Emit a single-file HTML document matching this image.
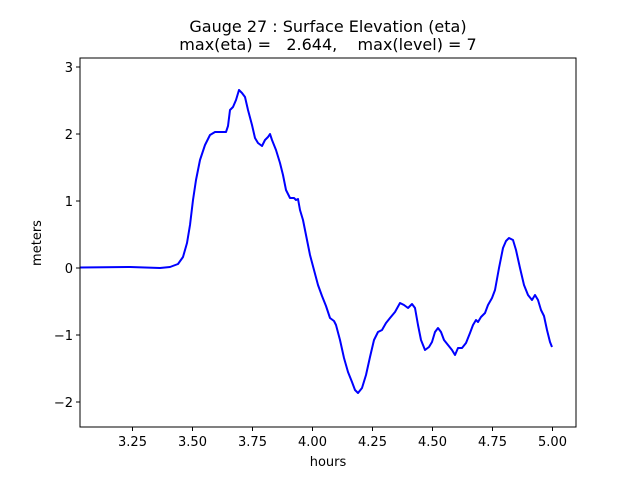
<!DOCTYPE html>
<html><head><meta charset="utf-8"><style>body{margin:0;background:#fff}svg text{font-family:"DejaVu Sans","Liberation Sans",sans-serif;fill:#000}</style></head><body>
<svg width="640" height="480" viewBox="0 0 640 480" xmlns="http://www.w3.org/2000/svg">
<rect width="640" height="480" fill="#fff"/>
<text x="328" y="32" font-size="16" text-anchor="middle">Gauge 27 : Surface Elevation (eta)</text>
<text x="328" y="50" font-size="16" text-anchor="middle" xml:space="preserve">max(eta) =   2.644,    max(level) = 7</text>
<polyline fill="none" stroke="#0000ff" stroke-width="2" stroke-linejoin="round" points="80,267.5 130,267 160,268 170,267 178,264 183,257 187,243 190,225 193,200 196,180 200,160 205,145 210,135 215,132 220,132 226,132 228,126 230,110 233,107 236,100 239,90 242,93 245,97 248,110 252,125 255,138 258,143 262,146 265,140 268,137 270,134 272,140 276,150 280,163 283,175 286,190 290,198 294,198 296,200 298,199 300,210 303,220 306,235 310,255 314,270 318,285 322,296 326,306 330,318 334,321 336,325 340,340 344,358 348,372 352,382 355,390 358,393 362,388 366,375 370,357 374,340 378,332 382,330 386,323 390,318 395,312 400,303 404,305 408,308 412,304 415,308 418,325 421,340 425,350 429,347 432,342 435,332 438,328 441,332 444,340 448,345 452,350 455,355 458,348 462,348 466,343 470,333 473,325 476,320 478,322 481,317 485,313 488,305 492,298 495,290 499,268 503,248 506,241 509,238 513,240 516,250 520,268 524,285 528,295 532,300 535,295 538,300 541,310 544,316 547,330 550,342 552,347"/>
<rect x="80" y="58" width="496" height="369" fill="none" stroke="#000" stroke-width="1"/>
<g stroke="#000" stroke-width="1">
<line x1="132.5" y1="427" x2="132.5" y2="431"/><line x1="192.5" y1="427" x2="192.5" y2="431"/><line x1="252.5" y1="427" x2="252.5" y2="431"/><line x1="312.5" y1="427" x2="312.5" y2="431"/><line x1="372.5" y1="427" x2="372.5" y2="431"/><line x1="432.5" y1="427" x2="432.5" y2="431"/><line x1="492.5" y1="427" x2="492.5" y2="431"/><line x1="552.5" y1="427" x2="552.5" y2="431"/>
<line x1="76" y1="67" x2="80" y2="67"/><line x1="76" y1="134" x2="80" y2="134"/><line x1="76" y1="201" x2="80" y2="201"/><line x1="76" y1="268" x2="80" y2="268"/><line x1="76" y1="335" x2="80" y2="335"/><line x1="76" y1="402" x2="80" y2="402"/>
</g>
<g font-size="13" text-anchor="middle">
<text x="132.5" y="446">3.25</text><text x="192.5" y="446">3.50</text><text x="252.5" y="446">3.75</text><text x="312.5" y="446">4.00</text><text x="372.5" y="446">4.25</text><text x="432.5" y="446">4.50</text><text x="492.5" y="446">4.75</text><text x="552.5" y="446">5.00</text>
<text x="328" y="466">hours</text>
</g>
<g font-size="13" text-anchor="end">
<text x="73" y="72">3</text><text x="73" y="139">2</text><text x="73" y="206">1</text><text x="73" y="273">0</text><text x="73" y="340">−1</text><text x="73" y="407">−2</text>
</g>
<text transform="translate(41,243) rotate(-90)" font-size="13" text-anchor="middle">meters</text>
</svg>
</body></html>
